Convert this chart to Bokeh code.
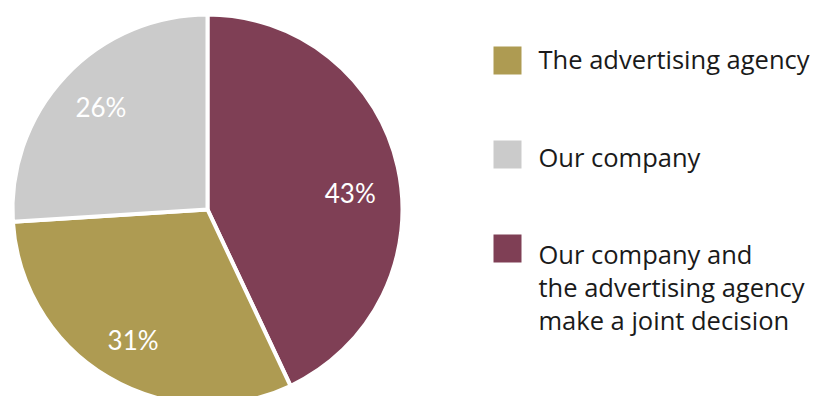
import numpy as np
from bokeh.plotting import figure
from bokeh.models import Range1d, ColumnDataSource
from bokeh.core.properties import value
from bokeh.embed import file_html
from bokeh.resources import INLINE

# data
categories = ["Our company and\nthe advertising agency\nmake a joint decision",
              "The advertising agency",
              "Our company"]
shares = [43, 31, 26]
colors = ["#7f3f55", "#ae9b52", "#cbcbcb"]
legend_order = [1, 2, 0]

W, H = 815, 396
p = figure(width=W, height=H, output_backend="svg", toolbar_location=None,
           x_range=Range1d(0, W), y_range=Range1d(0, H), min_border=0)
p.axis.visible = False
p.grid.visible = False
p.outline_line_color = None
p.background_fill_color = "white"
p.border_fill_color = "white"

cx, cy, R = 207, H - 209, 195
frac = np.array(shares, dtype=float) / sum(shares)
cum = np.cumsum(frac)
prev = np.concatenate([[0], cum[:-1]])
a_start_cw = np.pi / 2 - prev * 2 * np.pi
a_end_cw = np.pi / 2 - cum * 2 * np.pi
src = ColumnDataSource(dict(start=a_end_cw, end=a_start_cw, color=colors))
p.wedge(x=cx, y=cy, radius=R, start_angle="start", end_angle="end",
        fill_color="color", line_color="white", line_width=4, source=src)

mid = (a_start_cw + a_end_cw) / 2
lr = 0.75 * R
label_dy = [-15, -5, 2]
lx = cx + lr * np.cos(mid)
ly = cy + lr * np.sin(mid) + np.array(label_dy)
p.text(x=lx, y=ly, text=[f"{s}%" for s in shares], text_color="white",
       text_font=value("Lato"), text_font_size="26px",
       text_align="center", text_baseline="middle")

# legend
sq_x, txt_x = 507, 538
sq_y0, sq_step = 60, 94
line_h = 33
txt_dy = [-2, 2, 5]
for row, idx in enumerate(legend_order):
    sy = H - (sq_y0 + row * sq_step)
    p.scatter(x=[sq_x], y=[sy], marker="square", size=28,
              fill_color=colors[idx], line_color=None)
    lines = categories[idx].split("\n")
    base = H - (sq_y0 + row * sq_step + txt_dy[row])
    p.text(x=[txt_x] * len(lines), y=[base - i * line_h for i in range(len(lines))],
           text=lines, text_color="#1a1a1a", text_font=value("Open Sans"),
           text_font_size="25.5px", text_align="left", text_baseline="alphabetic")

open("out.html", "w").write(file_html(p, INLINE))
